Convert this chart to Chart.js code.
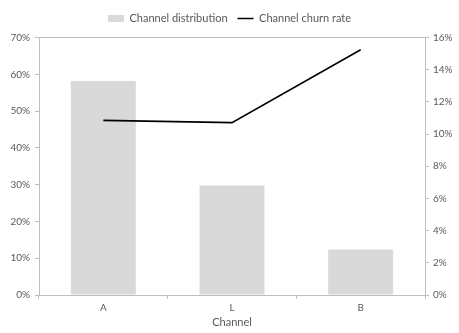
<!DOCTYPE html>
<html>
<head>
<meta charset="utf-8">
<script src="https://cdn.jsdelivr.net/npm/chart.js@4.4.1/dist/chart.umd.min.js"></script>
<style>
  html, body { margin: 0; padding: 0; background: #ffffff; }
  #wrap { width: 459px; height: 333px; }
</style>
</head>
<body>
<div id="wrap"><canvas id="chart" width="459" height="333"></canvas></div>
<script>
// Share of customers per channel and churn rate per channel
const channels = ['A', 'L', 'B'];
const channelDistribution = [0.582, 0.298, 0.124];
const channelChurnRate = [0.1085, 0.1071, 0.1524];

const seriesNames = ['Channel distribution', 'Channel churn rate'];
const axisTitle = 'Channel';

// Axis ranges (fractions, shown as percentages)
const leftAxisMax = 0.7;
const leftAxisStep = 0.1;
const rightAxisMax = 0.16;
const rightAxisStep = 0.02;

const FONT = 'Lato, "Open Sans", "DejaVu Sans", sans-serif';
const TEXT = '#595959';
const AXIS = '#bfbfbf';
const BAR = '#d9d9d9';
const LINE = '#000000';

const pct = v => Math.round(v * 100) + '%';

// Adds a little room between the legend and the plot area
const legendSpacer = {
  id: 'legendSpacer',
  beforeLayout(chart) {
    const lg = chart.legend;
    if (lg && !lg._spaced) {
      const fit = lg.fit;
      lg.fit = function () { fit.call(this); this.height += 3.5; };
      lg._spaced = true;
    }
  }
};

new Chart(document.getElementById('chart'), {
  plugins: [legendSpacer],
  data: {
    labels: channels,
    datasets: [
      {
        type: 'line',
        label: seriesNames[1],
        data: channelChurnRate,
        yAxisID: 'y1',
        borderColor: LINE,
        borderWidth: 1.6,
        pointRadius: 0,
        tension: 0,
        fill: false
      },
      {
        type: 'bar',
        label: seriesNames[0],
        data: channelDistribution,
        yAxisID: 'y',
        backgroundColor: BAR,
        borderWidth: 0,
        categoryPercentage: 1,
        barPercentage: 0.505
      }
    ]
  },
  options: {
    responsive: false,
    devicePixelRatio: 1,
    animation: false,
    layout: { padding: { top: 3, left: 0, right: 0, bottom: 0 } },
    plugins: {
      tooltip: { enabled: false },
      legend: {
        position: 'top',
        align: 'center',
        labels: {
          font: { family: FONT, size: 11 },
          color: TEXT,
          usePointStyle: true,
          boxHeight: 7,
          pointStyleWidth: 16,
          padding: 10,
          generateLabels: () => [
            {
              text: seriesNames[0],
              fillStyle: BAR,
              strokeStyle: BAR,
              lineWidth: 0,
              pointStyle: 'rect',
              fontColor: TEXT,
              datasetIndex: 1
            },
            {
              text: seriesNames[1],
              fillStyle: LINE,
              strokeStyle: LINE,
              lineWidth: 1.6,
              pointStyle: 'line',
              fontColor: TEXT,
              datasetIndex: 0
            }
          ]
        }
      }
    },
    scales: {
      x: {
        offset: true,
        border: { display: true, color: AXIS, width: 1 },
        grid: {
          offset: true,
          drawOnChartArea: false,
          drawTicks: true,
          tickLength: 4,
          tickColor: AXIS
        },
        ticks: {
          font: { family: FONT, size: 10 },
          color: TEXT,
          padding: 3
        },
        title: {
          display: true,
          text: axisTitle,
          font: { family: FONT, size: 11 },
          color: TEXT,
          padding: { top: 0, bottom: 4 }
        },
        afterFit: s => { s.height = 38; }
      },
      y: {
        position: 'left',
        min: 0,
        max: leftAxisMax,
        border: { display: true, color: AXIS, width: 1 },
        grid: {
          drawOnChartArea: true,
          color: c => (c.tick && Math.abs(c.tick.value - leftAxisMax) < 1e-9) ? AXIS : 'rgba(0,0,0,0)',
          tickColor: AXIS,
          tickLength: 4
        },
        ticks: {
          stepSize: leftAxisStep,
          callback: v => pct(v),
          font: { family: FONT, size: 10 },
          color: TEXT,
          padding: 5
        },
        afterFit: s => { s.width = 39; }
      },
      y1: {
        position: 'right',
        min: 0,
        max: rightAxisMax,
        border: { display: true, color: AXIS, width: 1 },
        grid: {
          drawOnChartArea: false,
          tickColor: AXIS,
          tickLength: 4
        },
        ticks: {
          stepSize: rightAxisStep,
          callback: v => pct(v),
          font: { family: FONT, size: 10 },
          color: TEXT,
          padding: 4
        },
        afterFit: s => { s.width = 34; }
      }
    }
  }
});
</script>
</body>
</html>
